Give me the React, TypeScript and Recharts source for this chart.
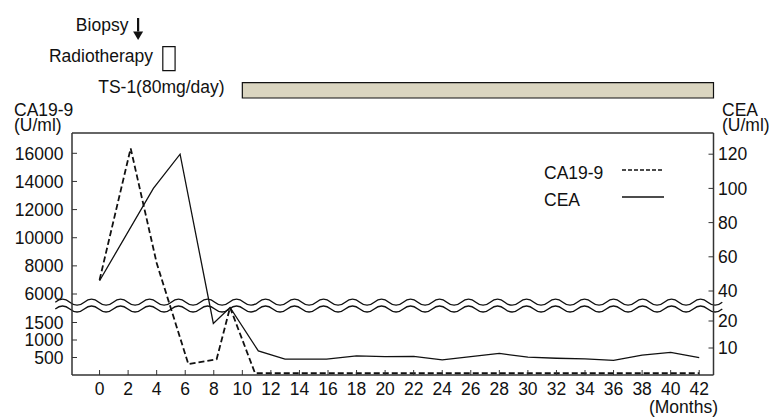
import { LineChart, Line, XAxis, YAxis, ReferenceLine, ReferenceArea, Legend } from 'recharts'

// months after diagnosis and marker values
const caMonths = [0, 2.18, 4.0, 6.22, 8.2, 9.14, 10.89, 12, 14, 16, 18, 20, 22, 24, 26, 28, 30, 32, 34, 36, 38, 40, 42]
const caValues = [7000, 16350, 8200, 310, 450, 1930, 50, 50, 50, 50, 50, 50, 50, 50, 50, 50, 50, 50, 50, 50, 50, 50, 50]
const ceaMonths = [0, 3.77, 5.64, 7.97, 9.14, 11.12, 12.99, 15.9, 18, 20, 22, 24, 26, 28, 30, 32, 34, 36, 38, 40, 42]
const ceaValues = [46, 100, 120, 19.1, 25, 8.9, 5.9, 5.9, 7.1, 6.8, 6.9, 5.6, 6.8, 8.0, 6.6, 6.2, 6.0, 5.4, 7.4, 8.4, 6.4]

const monthTicks = [0, 2, 4, 6, 8, 10, 12, 14, 16, 18, 20, 22, 24, 26, 28, 30, 32, 34, 36, 38, 40, 42]
const caTicksLow = [500, 1000, 1500]
const caTicksHigh = [6000, 8000, 10000, 12000, 14000, 16000]
const ceaTicksLow = [10, 20]
const ceaTicksHigh = [40, 60, 80, 100, 120]

// treatment timeline (months)
const biopsyMonth = 2.7
const radiotherapyMonths = [4.43, 5.29]
const ts1Months = [10, 43]

// broken axis: values are placed on a shared 0..242 display scale
const SCALE_TOP = 242
const caToU = (v: number) => (v <= 3000 ? v * 0.035 : 81 + (v - 6000) * 0.01407)
const ceaToU = (v: number) => (v <= 30 ? v * 2.7 : 84 + (v - 40) * 1.71)

const caData = caMonths.map((m, i) => ({ month: m, u: caToU(caValues[i]) }))
const ceaData = ceaMonths.map((m, i) => ({ month: m, u: ceaToU(ceaValues[i]) }))

const caTickMap = new Map<number, string>()
;[...caTicksLow, ...caTicksHigh].forEach((v) => caTickMap.set(caToU(v), String(v)))
const ceaTickMap = new Map<number, string>()
;[...ceaTicksLow, ...ceaTicksHigh].forEach((v) => ceaTickMap.set(ceaToU(v), String(v)))

const INK = '#111'
const AXIS = '#333'
const FONT = '"Liberation Sans", Arial, Helvetica, sans-serif'
const FS = 17.5
const tickStyle = { fill: INK, fontSize: FS, fontFamily: FONT }

const legendDash: Record<string, string | undefined> = { 'CA19-9': '4 2', CEA: undefined }

function SeriesLegend({ payload }: any) {
  return (
    <div style={{ fontFamily: FONT, fontSize: FS, color: INK }}>
      {(payload || []).map((entry: any) => (
        <div key={entry.value} style={{ position: 'relative', height: 27, lineHeight: '27px' }}>
          <span>{entry.value}</span>
          <svg width={44} height={6} style={{ position: 'absolute', left: 78, top: 7 }}>
            <line x1={0} y1={3} x2={42} y2={3} stroke={INK} strokeWidth={1.4} strokeDasharray={legendDash[entry.value]} />
          </svg>
        </div>
      ))}
    </div>
  )
}

function BreakMark(props: any) {
  const { x1, x2, y1 } = props
  const period = 29
  const amp = 3
  const wave = (cy: number) => {
    let d = `M${x1},${cy}`
    for (let x = x1; x < x2; x += period) {
      d += ` Q${x + period / 4},${cy - amp * 2} ${x + period / 2},${cy} T${x + period},${cy}`
    }
    return d
  }
  return (
    <g fill="none" stroke={INK} strokeWidth={1.3}>
      <path d={wave(y1 - 3.4)} />
      <path d={wave(y1 + 3.4)} />
    </g>
  )
}

function ArrowShape(props: any) {
  const { x1, y1, x2, y2 } = props
  const head = 8.5
  return (
    <g>
      <line x1={x1} y1={y1} x2={x2} y2={y2 - head} stroke={INK} strokeWidth={2.2} />
      <polygon points={`${x2 - 5},${y2 - head} ${x2 + 5},${y2 - head} ${x2},${y2}`} fill={INK} />
    </g>
  )
}

const labelText = (text: string, dx: number, dy: number) => (props: any) => {
  const vb = props.viewBox || {}
  return (
    <text x={vb.x + dx} y={vb.y + dy} textAnchor="end" fill={INK} fontSize={FS} fontFamily={FONT}>
      {text}
    </text>
  )
}

export default function App() {
  return (
    <div style={{ position: 'absolute', left: 0, top: 0, fontFamily: FONT }}>
      <LineChart width={769} height={418} margin={{ top: 133, right: 10, bottom: 13, left: 12 }}>
        <XAxis
          dataKey="month"
          type="number"
          domain={[-1.93, 43]}
          ticks={monthTicks}
          interval={0}
          allowDataOverflow
          height={30}
          tick={tickStyle}
          tickSize={-5}
          tickMargin={13}
          tickLine={{ stroke: AXIS }}
          axisLine={{ stroke: AXIS, strokeWidth: 1.5 }}
          label={(p: any) => (
            <text x={p.viewBox.x + p.viewBox.width + 4.5} y={p.viewBox.y + 38} textAnchor="end" fill={INK} fontSize={FS} fontFamily={FONT}>
              (Months)
            </text>
          )}
        />
        <YAxis
          yAxisId="left"
          type="number"
          domain={[0, SCALE_TOP]}
          allowDataOverflow
          ticks={[...caTickMap.keys()]}
          interval={0}
          tickFormatter={(v: number) => caTickMap.get(v) ?? ''}
          width={60}
          tick={tickStyle}
          tickSize={-5}
          tickMargin={13.5}
          tickLine={{ stroke: AXIS }}
          axisLine={{ stroke: AXIS, strokeWidth: 1.5 }}
          label={(p: any) => (
            <text fill={INK} fontSize={FS} fontFamily={FONT}>
              <tspan x={p.viewBox.x + 2} y={p.viewBox.y - 17}>CA19-9</tspan>
              <tspan x={p.viewBox.x + 2} y={p.viewBox.y - 2}>(U/ml)</tspan>
            </text>
          )}
        />
        <YAxis
          yAxisId="right"
          orientation="right"
          type="number"
          domain={[0, SCALE_TOP]}
          allowDataOverflow
          ticks={[...ceaTickMap.keys()]}
          interval={0}
          tickFormatter={(v: number) => ceaTickMap.get(v) ?? ''}
          width={45.5}
          tick={tickStyle}
          tickSize={-5}
          tickMargin={9.5}
          tickLine={{ stroke: AXIS }}
          axisLine={{ stroke: AXIS, strokeWidth: 1.5 }}
          label={(p: any) => (
            <text fill={INK} fontSize={FS} fontFamily={FONT}>
              <tspan x={p.viewBox.x + 8.5} y={p.viewBox.y - 17}>CEA</tspan>
              <tspan x={p.viewBox.x + 8.5} y={p.viewBox.y - 2}>(U/ml)</tspan>
            </text>
          )}
        />
        <ReferenceLine yAxisId="left" y={SCALE_TOP} stroke={AXIS} strokeWidth={1.5} />

        <ReferenceArea
          yAxisId="left"
          x1={radiotherapyMonths[0]}
          x2={radiotherapyMonths[1]}
          y1={304.3}
          y2={328.3}
          ifOverflow="visible"
          fill="#fff"
          fillOpacity={1}
          stroke={INK}
          strokeWidth={1.2}
          label={labelText('Radiotherapy', -9.7, 15)}
        />
        <ReferenceArea
          yAxisId="left"
          x1={ts1Months[0]}
          x2={ts1Months[1]}
          y1={277}
          y2={292.3}
          ifOverflow="visible"
          fill="#dad5c0"
          fillOpacity={1}
          stroke={INK}
          strokeWidth={1.2}
          label={labelText('TS-1(80mg/day)', -17.7, 10.5)}
        />
        <ReferenceLine
          yAxisId="left"
          segment={[{ x: biopsyMonth, y: 357 }, { x: biopsyMonth, y: 335 }]}
          ifOverflow="visible"
          shape={ArrowShape}
          label={labelText('Biopsy', -9.7, 12.7)}
        />

        <Line
          yAxisId="left"
          data={caData}
          dataKey="u"
          name="CA19-9"
          type="linear"
          stroke={INK}
          strokeWidth={1.8}
          strokeDasharray="6 3"
          dot={false}
          isAnimationActive={false}
        />
        <Line
          yAxisId="right"
          data={ceaData}
          dataKey="u"
          name="CEA"
          type="linear"
          stroke={INK}
          strokeWidth={1.3}
          dot={false}
          isAnimationActive={false}
        />

        <ReferenceLine
          yAxisId="left"
          segment={[{ x: -3.1, y: 69.4 }, { x: 43.15, y: 69.4 }]}
          ifOverflow="visible"
          shape={BreakMark}
        />

        <Legend
          layout="vertical"
          align="center"
          verticalAlign="middle"
          content={SeriesLegend}
          wrapperStyle={{ position: 'absolute', left: 544, top: 160, width: 140, height: 56 }}
        />
      </LineChart>
    </div>
  )
}
